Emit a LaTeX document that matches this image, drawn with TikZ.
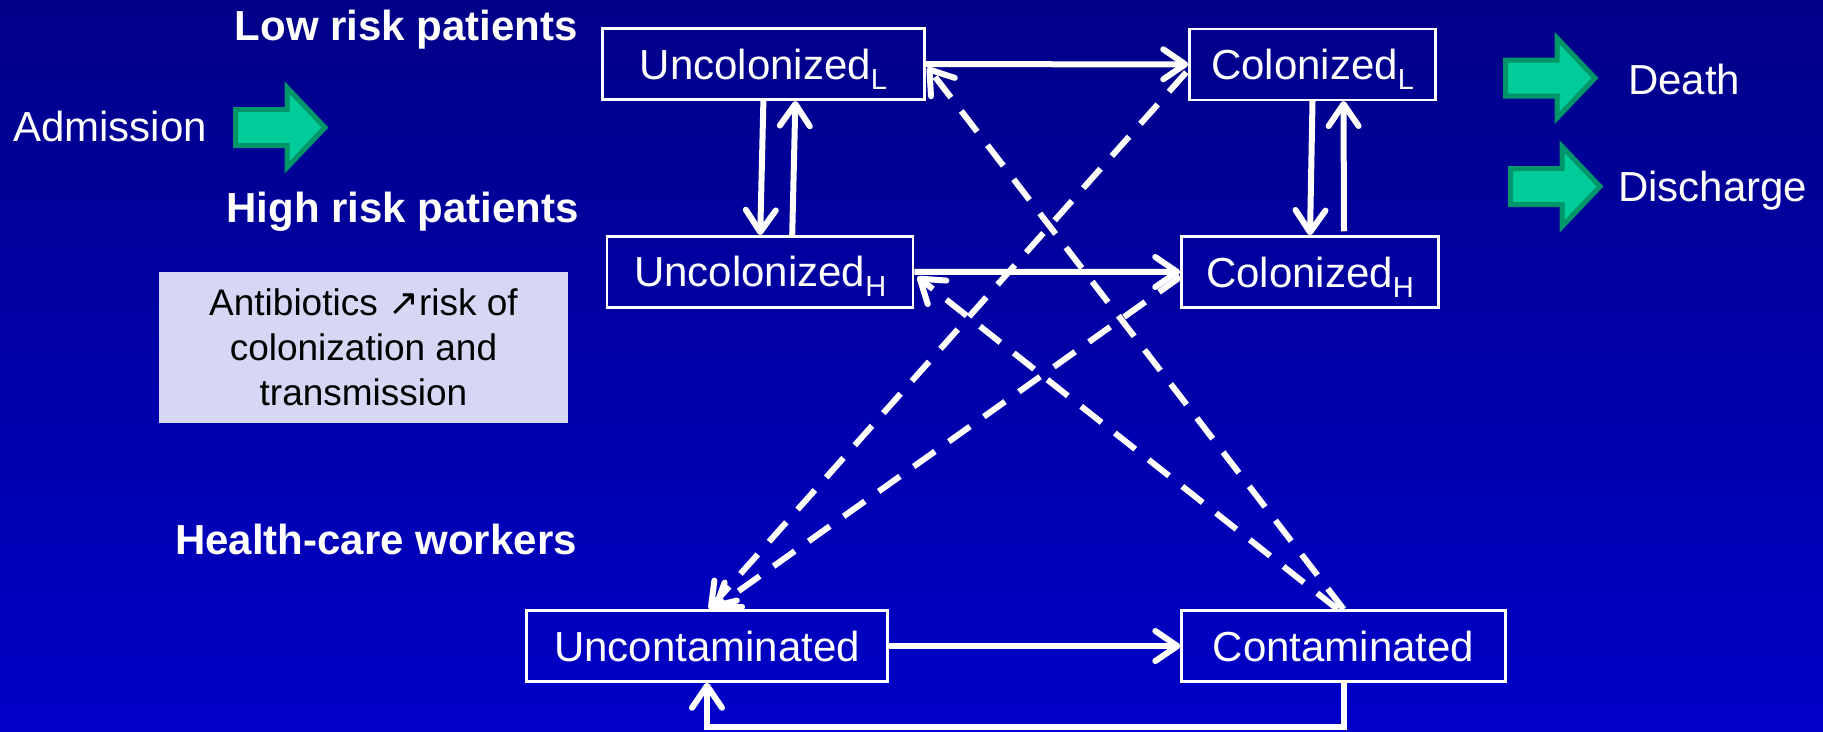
\documentclass[tikz,border=0pt]{standalone}
\usepackage{fontspec}
\setmainfont{Liberation Sans}
\newfontfamily\symbolfont{DejaVu Sans}
\usetikzlibrary{arrows.meta,calc}

\definecolor{bgtop}{RGB}{0,0,136}
\definecolor{bgbottom}{RGB}{0,0,200}
\definecolor{notefill}{RGB}{214,214,245}
\definecolor{arrowfill}{RGB}{0,204,153}
\definecolor{arrowedge}{RGB}{0,150,105}

% lowered subscript letter for the risk group
\newcommand\sublabel[1]{\raisebox{-10pt}{\fontsize{29}{29}\selectfont #1}}

\tikzset{
  statebox/.style={draw=white, line width=2.5pt, text=white,
    font=\fontsize{42}{50}\selectfont, minimum height=71pt,
    text height=32pt, text depth=2pt, inner sep=0pt},
  grouplabel/.style={text=white, font=\fontsize{42}{50}\selectfont\bfseries,
    anchor=base east, inner sep=0pt},
  sidelabel/.style={text=white, font=\fontsize{42}{50}\selectfont,
    anchor=base west, inner sep=0pt},
  notebox/.style={fill=notefill, text=black, align=center,
    font=\fontsize{37}{45}\selectfont, inner sep=0pt},
  flowarrow/.style={draw=white, line width=6pt,
    -{Straight Barb[length=22pt,width=30pt,round]}},
  contactarrow/.style={flowarrow, dash pattern=on 26pt off 17pt},
  blockarrow/.pic={
    \draw[fill=arrowfill, draw=arrowedge, line width=5pt]
      (2.5,-18) -- (54,-18) -- (54,-40) -- (92,0) -- (54,40) -- (54,18)
      -- (2.5,18) -- cycle;
  }
}

\begin{document}
\begin{tikzpicture}[x=1pt, y=-1pt]
  % background
  \shade[top color=bgtop, bottom color=bgbottom] (0,0) rectangle (1823,731);
  \useasboundingbox (0,0) rectangle (1823,731);

  % group headings
  \node[grouplabel] (low)  at (578,40.7)  {Low risk patients};
  \node[grouplabel] (high) at (579,222)   {High risk patients};
  \node[grouplabel] (hcw)  at (577,554.3) {Health-care workers};

  % admission and exits
  \node[sidelabel] (adm)   at (13,141)     {Admission};
  \node[sidelabel] (death) at (1628,94)    {Death};
  \node[sidelabel] (disch) at (1618,201.7) {Discharge};
  \pic at (233,127.5) {blockarrow};
  \pic at (1503,78)   {blockarrow};
  \pic at (1508,186.5){blockarrow};

  % note on antibiotics
  \node[notebox, minimum width=409pt, minimum height=151pt] (note) at (363.5,347.5)
    {Antibiotics {\symbolfont ↗}risk of\\colonization and\\transmission};

  % states
  \node[statebox, minimum width=322pt] (UL) at (763.4,64.2)  {Uncolonized\sublabel{L}};
  \node[statebox, minimum width=246pt] (CL) at (1312.5,64.3) {Colonized\sublabel{L}};
  \node[statebox, minimum width=306pt] (UH) at (760.2,271.8) {Uncolonized\sublabel{H}};
  \node[statebox, minimum width=257pt] (CH) at (1310,272)    {Colonized\sublabel{H}};
  \node[statebox, minimum width=361pt] (UC) at (707,646)     {Uncontaminated};
  \node[statebox, minimum width=324pt] (CO) at (1343.6,646)  {Contaminated};

  % patient and worker transitions
  \draw[flowarrow] (UL.east) -- (CL.west);
  \draw[flowarrow] (UH.east) -- (CH.west);
  \draw[flowarrow] (UC.east) -- (CO.west);
  \draw[flowarrow] (UL.south) -- (UH.north);
  \draw[flowarrow] ($(UH.north)+(32,0)$) -- ($(UL.south)+(32,0)$);
  \draw[flowarrow] (CL.south) -- (CH.north);
  \draw[flowarrow] ($(CH.north)+(34,-4)$) -- ($(CL.south)+(31,0)$);
  \draw[flowarrow] (CO.south) -- ++(0,44) -| (UC.south);

  % transmission through contact
  \draw[contactarrow] (CO.north) -- ($(UL.east)+(2,3)$);
  \draw[contactarrow] ($(CO.north)+(-6,0)$) -- ($(UH.east)+(3,5)$);
  \draw[contactarrow] ($(CL.west)+(-2,8)$) -- ($(UC.north)+(2,0)$);
  \draw[contactarrow] ($(CH.west)+(0,5)$) -- ($(UC.north)+(6,0)$);
\end{tikzpicture}
\end{document}
